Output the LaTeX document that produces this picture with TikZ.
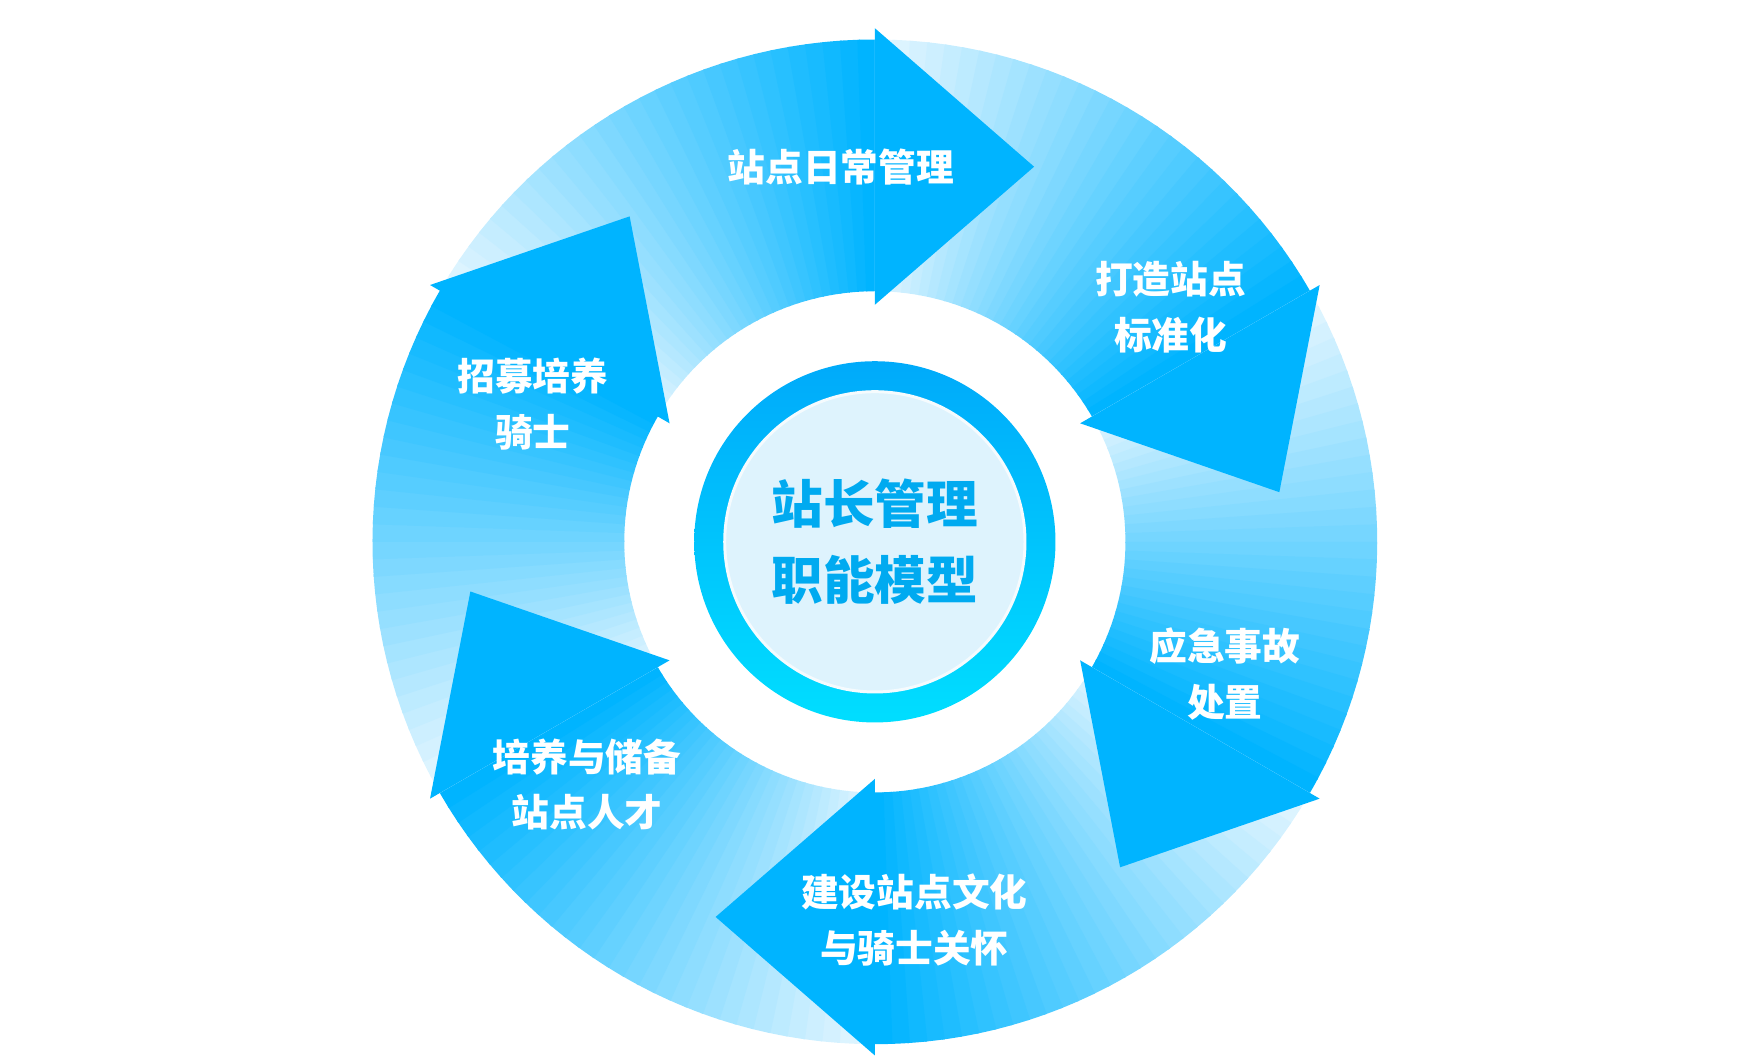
\documentclass[tikz,border=0pt]{standalone}
\usepackage{fontspec}
\newfontfamily\cjk{Noto Sans CJK SC}
\definecolor{arrowdark}{RGB}{0,180,255}
\definecolor{arrowlight}{RGB}{228,246,255}
\definecolor{ringtop}{RGB}{0,170,250}
\definecolor{ringbot}{RGB}{0,222,255}
\definecolor{diskfill}{RGB}{222,243,253}
\definecolor{hubtext}{RGB}{0,170,240}
\tikzset{
  steplabel/.style={text=white,font=\cjk\bfseries\fontsize{19}{28}\selectfont,align=center},
  hublabel/.style={text=hubtext,font=\cjk\bfseries\fontsize{26}{38}\selectfont,align=center}
}
\begin{document}
\begin{tikzpicture}
  \useasboundingbox (0,0) rectangle (31.2,18.8);
  \begin{scope}[shift={(15.5,9.2)}]
    % ring of six segments, light at the tail, dark at the head
    \foreach \a in {150,90,30,-30,-90,-150}{
      \foreach \i in {0,...,29}{
        \pgfmathsetmacro\p{\i*100/29}
        \pgfmathsetmacro\s{\a-2*\i}
        \pgfmathsetmacro\e{\a-2*\i-2.3}
        \fill[arrowdark!\p!arrowlight] (\s:8.9) arc (\s:\e:8.9) -- (\e:4.44) arc (\e:\s:4.44) -- cycle;
      }
    }
    % arrow heads
    \foreach \a in {150,90,30,-30,-90,-150}{
      \pgfmathsetmacro\b{\a-60}
      \pgfmathsetmacro\t{\a-83}
      \fill[arrowdark] (\b:9.1) -- (\t:7.22) -- (\b:4.2) -- cycle;
    }
    % hub
    \shade[top color=ringtop,bottom color=ringbot] (0,0) circle (3.2);
    \fill[diskfill,draw=white!70!diskfill,line width=1.5pt] (0,0) circle (2.66);
    \node[hublabel] (hub) at (0,0) {站长管理\\职能模型};
  \end{scope}
  \node[steplabel] (daily) at (14.9,15.84) {站点日常管理};
  \node[steplabel] (standard) at (20.74,13.36) {打造站点\\标准化};
  \node[steplabel] (emergency) at (21.7,6.86) {应急事故\\处置};
  \node[steplabel] (culture) at (16.2,2.5) {建设站点文化\\与骑士关怀};
  \node[steplabel] (talent) at (10.4,4.9) {培养与储备\\站点人才};
  \node[steplabel] (recruit) at (9.44,11.64) {招募培养\\骑士};
\end{tikzpicture}
\end{document}
